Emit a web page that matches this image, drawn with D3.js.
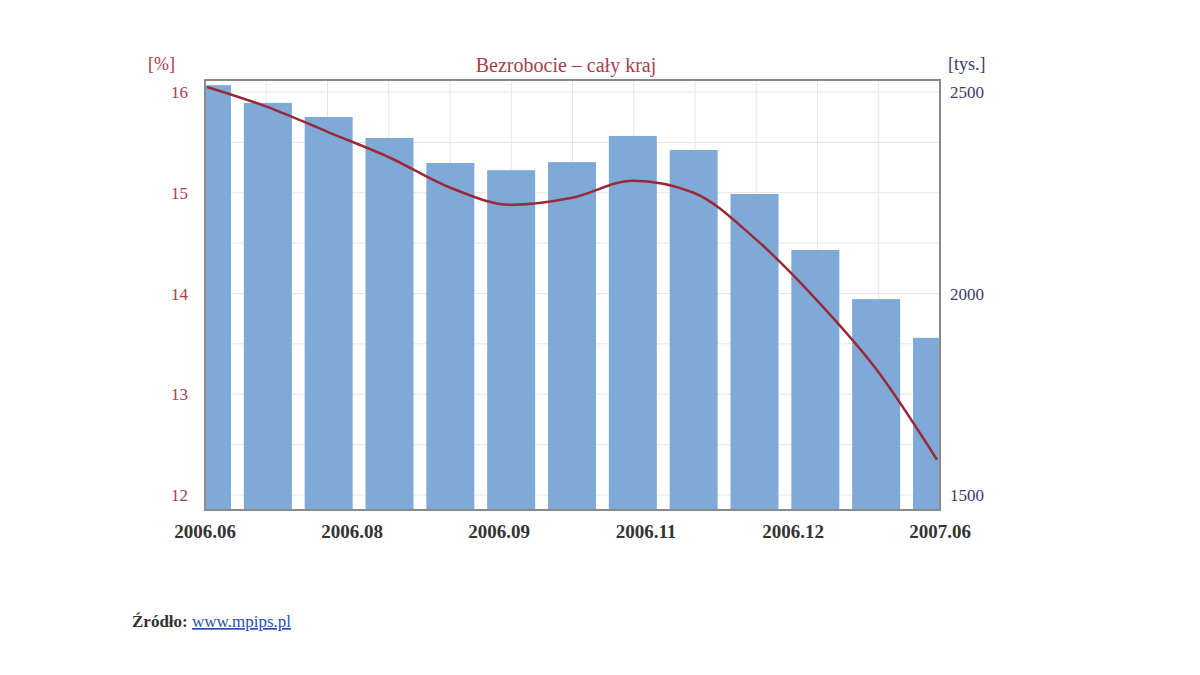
<!DOCTYPE html><html><head><meta charset="utf-8"><script src="https://cdn.jsdelivr.net/npm/d3@7"></script>
<style>body{margin:0;background:#fff}text{font-family:"Liberation Serif",serif}</style></head><body><svg id="c" width="1200" height="675"></svg><script>
const months=["2006.06","2006.07","2006.08","2006.09","2006.10","2006.11","2006.12","2007.01","2007.02","2007.03","2007.04","2007.05","2007.06"];
const unemployedK=[2517,2473,2438,2386,2324,2306,2326,2391,2356,2247,2108,1986,1890];
const ratePct=[16.05,15.85,15.6,15.35,15.05,14.88,14.95,15.12,15.0,14.55,13.95,13.25,12.35];
const xTickLabels=["2006.06","2006.08","2006.09","2006.11","2006.12","2007.06"];
const leftTicks=[12,13,14,15,16], rightTicks=[1500,2000,2500];
const svg=d3.select("#c");
const L=205,R=940,T=80,B=510;
const x=d3.scalePoint().domain(months).range([L+2,R-3]);
const yL=d3.scaleLinear().domain([12,16]).range([495,92]);
const yR=d3.scaleLinear().domain([1500,2500]).range([495,92]);
svg.append("clipPath").attr("id","cp").append("rect").attr("x",L).attr("y",T).attr("width",R-L).attr("height",B-T);
const g=svg.append("g").attr("clip-path","url(#cp)");
const gx=d3.scaleLinear().domain([0,12]).range([L,R]);
d3.range(0,13).forEach(i=>g.append("line").attr("x1",gx(i)).attr("x2",gx(i)).attr("y1",T).attr("y2",B).attr("stroke","#e4e4ec"));
d3.range(12,16.01,0.5).forEach(v=>g.append("line").attr("x1",L).attr("x2",R).attr("y1",yL(v)).attr("y2",yL(v)).attr("stroke","#e4e4ec"));
g.selectAll(".b").data(unemployedK).join("rect").attr("x",(d,i)=>x(months[i])-24).attr("width",48)
 .attr("y",d=>yR(d)).attr("height",d=>B-yR(d)).attr("fill","#7fa9d6");
g.append("path").datum(ratePct).attr("fill","none").attr("stroke","#9a2a38").attr("stroke-width",2.5)
 .attr("d",d3.line().x((d,i)=>x(months[i])).y(d=>yL(d)).curve(d3.curveMonotoneX));
svg.append("rect").attr("x",L).attr("y",T).attr("width",R-L).attr("height",B-T).attr("fill","none").attr("stroke","#8a8a8a").attr("stroke-width",2);
const ax=svg.append("g");
leftTicks.forEach(v=>ax.append("text").attr("x",188).attr("y",yL(v)+6).attr("text-anchor","end").attr("fill","#a8404a").attr("font-size",17).text(v));
rightTicks.forEach(v=>ax.append("text").attr("x",950).attr("y",yR(v)+6).attr("fill","#3a3a70").attr("font-size",17).text(v));
const xt=d3.scaleLinear().domain([0,xTickLabels.length-1]).range([L,R]);
xTickLabels.forEach((t,i)=>ax.append("text").attr("x",xt(i)).attr("y",538).attr("text-anchor","middle").attr("font-size",19).attr("font-weight","bold").attr("fill","#333").text(t));
svg.append("text").attr("x",148).attr("y",70).attr("fill","#a8404a").attr("font-size",18).text("[%]");
svg.append("text").attr("x",948).attr("y",70).attr("fill","#3a3a70").attr("font-size",18).text("[tys.]");
svg.append("text").attr("x",566).attr("y",72).attr("text-anchor","middle").attr("fill","#a8404a").attr("font-size",20).text("Bezrobocie – cały kraj");
const s=svg.append("text").attr("x",132).attr("y",627).attr("font-size",17).attr("font-family","Liberation Sans");
s.append("tspan").attr("font-weight","bold").attr("fill","#333").text("Źródło: ");
s.append("tspan").attr("fill","#2a4fb0").attr("text-decoration","underline").text("www.mpips.pl");
</script></body></html>
